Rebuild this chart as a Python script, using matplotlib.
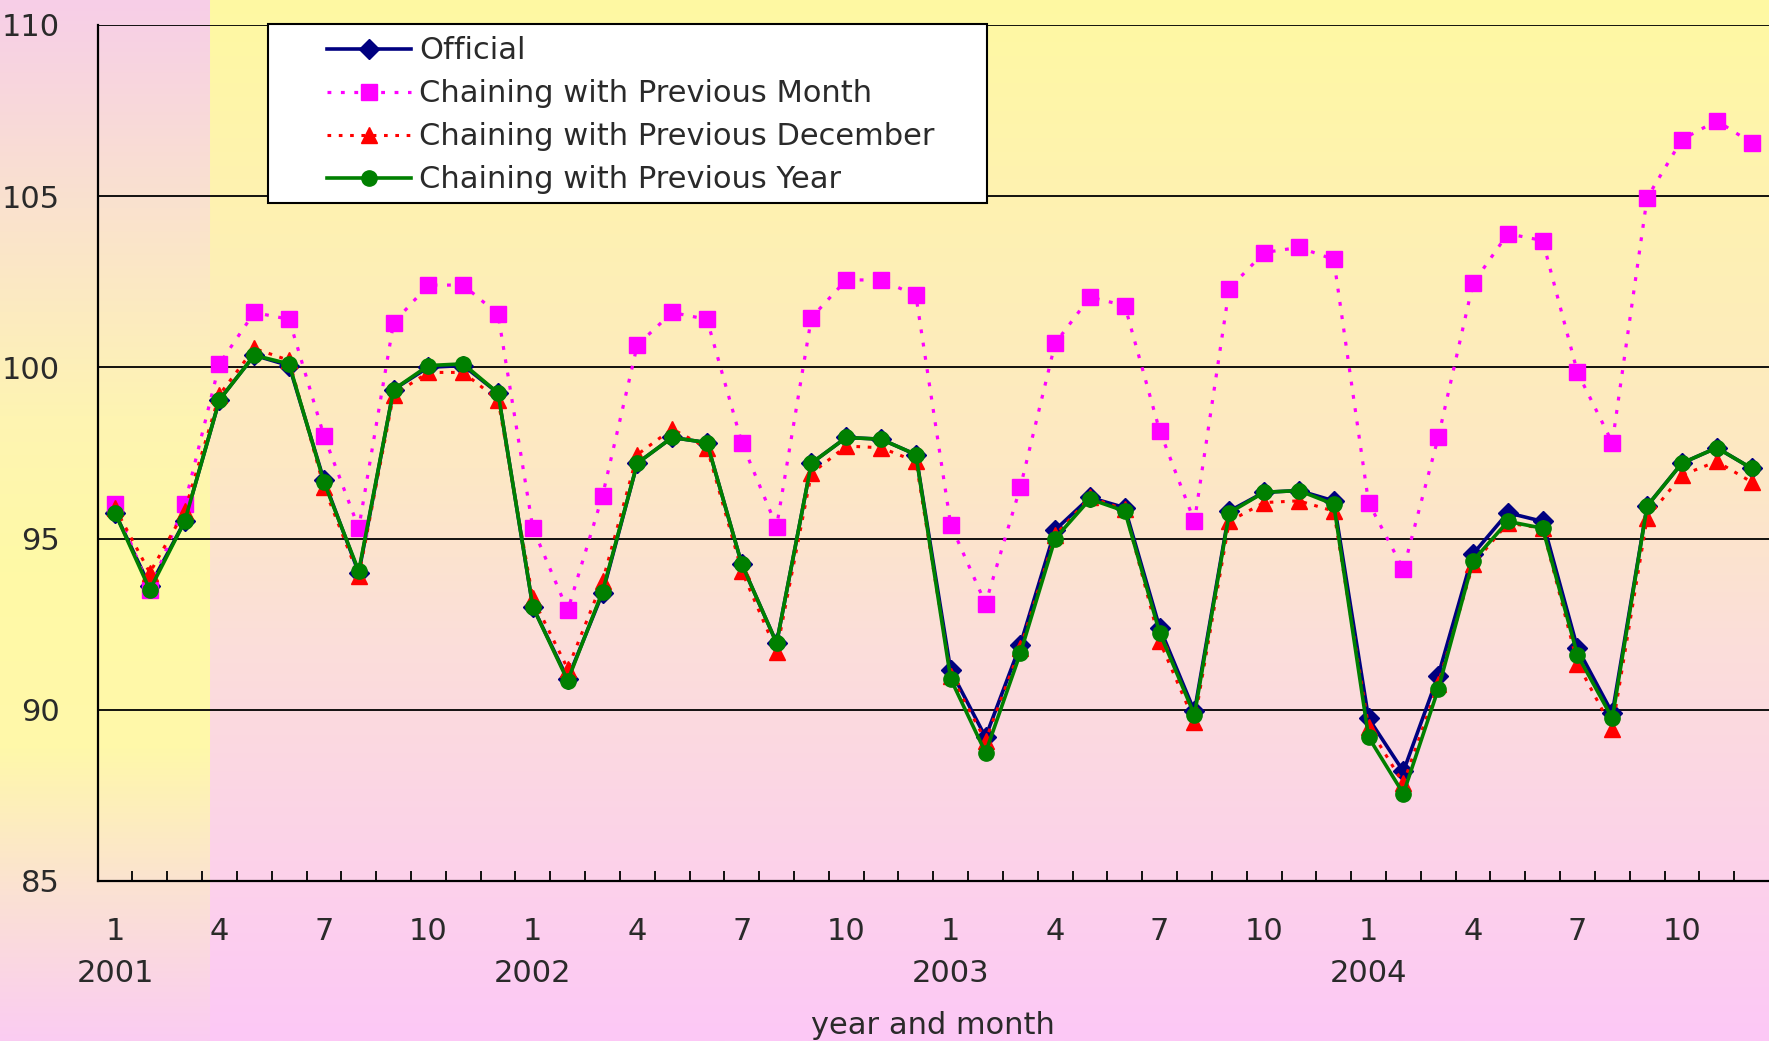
import numpy as np
import matplotlib
matplotlib.use("Agg")
import matplotlib.pyplot as plt
from matplotlib.patches import Rectangle
from matplotlib.transforms import blended_transform_factory

plt.rcParams['font.family'] = ['DejaVu Sans']

# Data: monthly index, Jan 2001 - Dec 2004
years = [2001, 2002, 2003, 2004]
month_labels = ["1", "4", "7", "10"]

official = [95.75, 93.6, 95.5, 99.05, 100.35, 100.05, 96.7, 94.0, 99.35, 100.0, 100.05, 99.25,
            93.0, 90.9, 93.4, 97.2, 97.95, 97.8, 94.25, 91.95, 97.2, 97.95, 97.9, 97.45,
            91.15, 89.2, 91.9, 95.25, 96.2, 95.9, 92.4, 89.95, 95.8, 96.35, 96.4, 96.1,
            89.75, 88.2, 91.0, 94.55, 95.75, 95.5, 91.8, 89.9, 95.95, 97.2, 97.65, 97.05]

prev_month = [96.0, 93.5, 96.0, 100.1, 101.6, 101.4, 98.0, 95.3, 101.3, 102.4, 102.4, 101.55,
              95.3, 92.9, 96.25, 100.65, 101.6, 101.4, 97.8, 95.35, 101.45, 102.55, 102.55, 102.1,
              95.4, 93.1, 96.5, 100.7, 102.05, 101.8, 98.15, 95.5, 102.3, 103.35, 103.5, 103.15,
              96.05, 94.1, 97.95, 102.45, 103.9, 103.7, 99.85, 97.8, 104.95, 106.65, 107.2, 106.55]

prev_december = [95.9, 94.0, 95.8, 99.2, 100.55, 100.2, 96.5, 93.9, 99.2, 99.85, 99.85, 99.05,
                 93.25, 91.2, 93.75, 97.45, 98.2, 97.65, 94.05, 91.7, 96.9, 97.7, 97.65, 97.25,
                 91.0, 89.1, 91.8, 95.1, 96.2, 95.85, 92.0, 89.65, 95.5, 96.05, 96.1, 95.8,
                 89.5, 87.85, 90.75, 94.25, 95.45, 95.3, 91.35, 89.45, 95.6, 96.85, 97.25, 96.65]

prev_year = [95.75, 93.5, 95.5, 99.05, 100.35, 100.1, 96.65, 94.05, 99.35, 100.05, 100.1, 99.25,
             93.0, 90.85, 93.45, 97.2, 97.95, 97.8, 94.25, 91.95, 97.2, 97.95, 97.9, 97.45,
             90.9, 88.75, 91.65, 95.0, 96.15, 95.8, 92.25, 89.85, 95.75, 96.35, 96.4, 96.0,
             89.2, 87.55, 90.6, 94.35, 95.5, 95.3, 91.6, 89.75, 95.95, 97.2, 97.65, 97.05]

W, H = 1769, 1041
fig = plt.figure(figsize=(W / 100, H / 100), dpi=100)

# background gradient (yellow top -> pink bottom, odd strip at left)
t = np.linspace(0, 1, H)
def grad(stops, cols):
    cols = np.array(cols, dtype=float) / 255
    return np.stack([np.interp(t, stops, cols[:, k]) for k in range(3)], axis=1)

main = grad([0, 0.45, 0.62, 1.0],
            [(255, 249, 162), (253, 232, 196), (251, 222, 218), (253, 200, 246)])
left = grad([0, 0.2, 0.4, 0.55, 0.72, 0.86, 1.0],
            [(247, 206, 232), (250, 226, 206), (254, 244, 178), (255, 250, 166),
             (255, 248, 170), (251, 225, 212), (250, 204, 242)])
bg = np.repeat(main[:, None, :], W, axis=1)
bg[:, :210, :] = left[:, None, :]
bax = fig.add_axes([0, 0, 1, 1], zorder=-10)
bax.imshow(bg, aspect='auto', extent=(0, 1, 0, 1))
bax.axis('off')

ax = fig.add_axes([97.6 / W, 1 - 881 / H, 1 - 97.6 / W, (881 - 24.8) / H])
ax.set_facecolor('none')

x = np.arange(len(official))
l1, = ax.plot(x, official, color='#000080', lw=2.6, marker='D', ms=10, zorder=3,
              label='Official')
l2, = ax.plot(x, prev_month, color='#FF00FF', lw=2.3, ls=(0, (1.2, 3)), marker='s', ms=12,
              zorder=3, label='Chaining with Previous Month')
l3, = ax.plot(x, prev_december, color='#FF0000', lw=2.2, ls=(0, (1.2, 2.5)), marker='^', ms=11,
              zorder=3, label='Chaining with Previous December')
l4, = ax.plot(x, prev_year, color='#008000', lw=2.6, marker='o', ms=11, zorder=3,
              label='Chaining with Previous Year')

ax.set_xlim(-0.5, len(official) - 0.5)
ax.set_ylim(85, 110)
ax.set_yticks([85, 90, 95, 100, 105, 110])
ax.yaxis.grid(True, color='black', lw=1.3)
ax.set_axisbelow(True)
for s in ['top', 'right']:
    ax.spines[s].set_visible(False)
for s in ['left', 'bottom']:
    ax.spines[s].set_color('black')
    ax.spines[s].set_linewidth(1.6)

txtc = '#2a2a2a'
fs = 22
ax.tick_params(axis='y', length=0, pad=27, labelsize=fs, labelcolor=txtc)

# tick marks between categories, labels at category centers
ax.set_xticks(np.arange(0.5, len(official) - 1, 1.0))
ax.tick_params(axis='x', which='major', direction='in', length=7, width=1.3,
               color='black', labelbottom=False)
lab_pos = [i for i in x if i % 3 == 0]
ax.set_xticks(lab_pos, [month_labels[(i % 12) // 3] for i in lab_pos], minor=True)
ax.tick_params(axis='x', which='minor', length=0, pad=26, labelsize=fs, labelcolor=txtc)

tr = blended_transform_factory(ax.transData, fig.transFigure)
for k, yr in enumerate(years):
    ax.text(k * 12, 1 - 973 / H, str(yr), transform=tr, ha='center', va='center',
            fontsize=fs, color=txtc)
fig.text((97.6 + W) / 2 / W, 1 - 1025 / H, 'year and month', ha='center', va='center',
         fontsize=fs, color=txtc)

# legend box
ax.add_patch(Rectangle((268 / W, 1 - 203 / H), (987 - 268) / W, (203 - 24) / H,
                       transform=fig.transFigure, facecolor='white', edgecolor='black',
                       lw=1.5, zorder=4, clip_on=False))
leg = ax.legend(handles=[l1, l2, l3, l4], loc='upper left',
                bbox_to_anchor=(312 / W, 1 - 21 / H), bbox_transform=fig.transFigure,
                frameon=False, borderpad=0, fontsize=fs, handlelength=2.75,
                handletextpad=0.25, labelspacing=0.46, labelcolor=txtc)
leg.set_zorder(5)

fig.savefig('out.png', dpi=100)
